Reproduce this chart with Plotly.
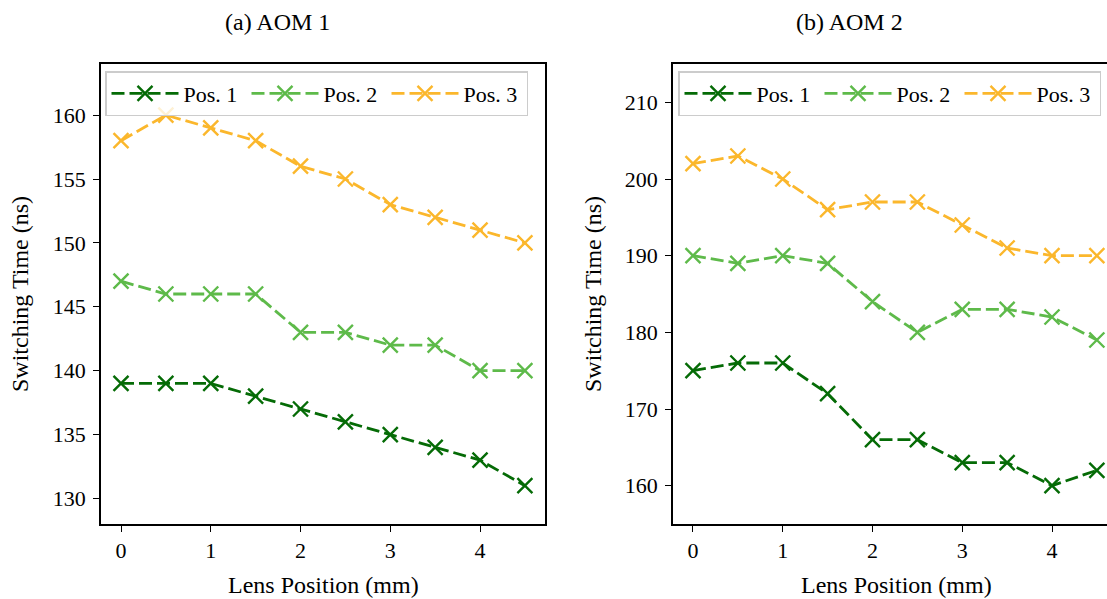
import plotly.graph_objects as go

# ---- data ----
lens_pos = [0, 0.5, 1, 1.5, 2, 2.5, 3, 3.5, 4, 4.5]
series_names = ["Pos. 1", "Pos. 2", "Pos. 3"]

aom1_pos1 = [139, 139, 139, 138, 137, 136, 135, 134, 133, 131]
aom1_pos2 = [147, 146, 146, 146, 143, 143, 142, 142, 140, 140]
aom1_pos3 = [158, 160, 159, 158, 156, 155, 153, 152, 151, 150]

aom2_pos1 = [175, 176, 176, 172, 166, 166, 163, 163, 160, 162]
aom2_pos2 = [190, 189, 190, 189, 184, 180, 183, 183, 182, 179]
aom2_pos3 = [202, 203, 200, 196, 197, 197, 194, 191, 190, 190]

x_ticks = [0, 1, 2, 3, 4]
y1_ticks = [130, 135, 140, 145, 150, 155, 160]
y2_ticks = [160, 170, 180, 190, 200, 210]

colors = ["#056b06", "#5eba4a", "#fbb72c"]

W, H = 1107, 599
FONT = "Liberation Serif"
FS = 22

fig = go.Figure()

panels = [
    ([aom1_pos1, aom1_pos2, aom1_pos3], "x", "y", "legend"),
    ([aom2_pos1, aom2_pos2, aom2_pos3], "x2", "y2", "legend2"),
]
for vals, xa, ya, lg in panels:
    for name, v, c in zip(series_names, vals, colors):
        fig.add_trace(go.Scatter(
            x=lens_pos, y=v, name=name, mode="lines+markers",
            xaxis=xa, yaxis=ya, legend=lg,
            line=dict(color=c, width=2.8, dash="13px,5px"),
            marker=dict(symbol="x-thin", size=15, color=c,
                        line=dict(color=c, width=2.4)),
        ))

def px_x(p):
    return p / W

def px_y(p):
    return (H - p) / H

ydom = [px_y(524), px_y(64)]

axis_common = dict(
    showgrid=False, zeroline=False, showline=True, linecolor="black",
    linewidth=1.5, ticks="outside", ticklen=6, tickwidth=1.4,
    tickcolor="black", tickfont=dict(family=FONT, size=FS, color="black"),
)

legend_common = dict(
    orientation="h", xanchor="left", yanchor="top",
    bgcolor="rgba(255,255,255,0.8)", bordercolor="#cccccc", borderwidth=1.5,
    font=dict(family=FONT, size=FS, color="black"),
    itemwidth=67, entrywidth=58, entrywidthmode="pixels",
)

fig.update_layout(
    width=W, height=H,
    margin=dict(l=0, r=0, t=0, b=0, autoexpand=False),
    paper_bgcolor="white", plot_bgcolor="white",
    font=dict(family=FONT, size=FS, color="black"),
    xaxis=dict(domain=[px_x(100.8), px_x(545.1)], range=[-0.225, 4.725],
               tickvals=x_ticks, anchor="y", mirror=True, **axis_common),
    yaxis=dict(domain=ydom, range=[128, 164], tickvals=y1_ticks,
               anchor="x", mirror=True, ticklabelstandoff=3, **axis_common),
    xaxis2=dict(domain=[px_x(672.8), 1.0], range=[-0.225, (W - 693) / 89.75],
                tickvals=x_ticks, anchor="y2", mirror=True, **axis_common),
    yaxis2=dict(domain=ydom, range=[155, 215], tickvals=y2_ticks,
                anchor="x2", mirror=False, ticklabelstandoff=3, **axis_common),
    legend=dict(x=px_x(105), y=px_y(71), **legend_common),
    legend2=dict(x=px_x(678), y=px_y(71), **legend_common),
    showlegend=True,
)

annots = [
    dict(text="(a) AOM 1", x=px_x(277), y=px_y(22)),
    dict(text="(b) AOM 2", x=px_x(849), y=px_y(22)),
    dict(text="Lens Position (mm)", x=px_x(323), y=px_y(585)),
    dict(text="Lens Position (mm)", x=px_x(896), y=px_y(585)),
    dict(text="Switching Time (ns)", x=px_x(20), y=px_y(294), textangle=-90),
    dict(text="Switching Time (ns)", x=px_x(593), y=px_y(294), textangle=-90),
]
for a in annots:
    fig.add_annotation(xref="paper", yref="paper", showarrow=False,
                       xanchor="center", yanchor="middle",
                       font=dict(family=FONT, size=24, color="black"), **a)

fig.write_html("out.html")
